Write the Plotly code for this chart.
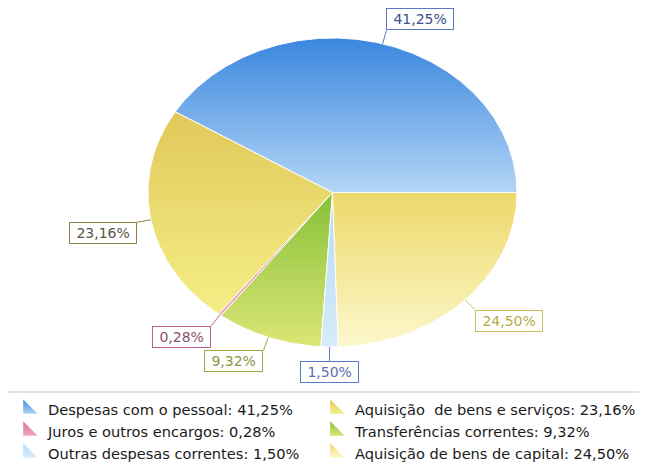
import numpy as np
import plotly.graph_objects as go

# ---- data ----
categories = [
    "Despesas com o pessoal",
    "Aquisição  de bens e serviços",
    "Juros e outros encargos",
    "Transferências correntes",
    "Outras despesas correntes",
    "Aquisição de bens de capital",
]
values = [41.25, 23.16, 0.28, 9.32, 1.50, 24.50]
value_labels = ["41,25%", "23,16%", "0,28%", "9,32%", "1,50%", "24,50%"]

# ---- styles ----
grad_top = ["#3a86de", "#e2c85a", "#d86c98", "#86c038", "#b4d8f4", "#eed86a"]
grad_bottom = ["#b4d6f6", "#f4ee86", "#f0a8c4", "#dce676", "#d6ecfa", "#fcf8cc"]
label_border = ["#5a78c8", "#8c8244", "#c0608a", "#a4a444", "#5a78c8", "#c8c060"]
label_text = ["#3c4f8f", "#5a5444", "#8a5070", "#8c9444", "#5a70b0", "#b4ac48"]
FONT = "DejaVu Sans"

W, H = 647, 463
OFF = 8                         # page body margin
CX, CY = 332.5 - OFF, 192.5 - OFF   # pie centre in figure px
RX, RY = 184.5, 154.5           # px per data unit (ellipse radii)
LEADER = 14                     # leader length in px

fig = go.Figure()
total = sum(values)
start = 0.0
annotations = []
for i, (cat, v, lab) in enumerate(zip(categories, values, value_labels)):
    span = 360.0 * v / total
    ang = np.radians(np.linspace(start, start + span, max(4, int(span * 2) + 2)))
    xs = np.concatenate([[0.0], np.cos(ang), [0.0]])
    ys = np.concatenate([[0.0], np.sin(ang), [0.0]])
    fig.add_trace(go.Scatter(
        x=xs, y=ys, mode="lines", fill="toself",
        line=dict(color="white", width=1),
        fillgradient=dict(type="vertical",
                          colorscale=[[0, grad_bottom[i]], [1, grad_top[i]]]),
        showlegend=False, hoverinfo="skip",
    ))
    mid = np.radians(start + span / 2)
    c, s = np.cos(mid), np.sin(mid)
    tx, ty = c + LEADER * c / RX, s + LEADER * s / RY
    fig.add_trace(go.Scatter(
        x=[c, tx], y=[s, ty], mode="lines",
        line=dict(color=label_border[i], width=1),
        showlegend=False, hoverinfo="skip",
    ))
    xanchor = "left" if c > 0.1 else ("right" if c < -0.1 else "center")
    yanchor = "bottom" if s > 0 else "top"
    annotations.append(dict(
        x=tx, y=ty, xref="x", yref="y", text="\u00a0" + lab + "\u00a0",
        showarrow=False, xanchor=xanchor, yanchor=yanchor,
        font=dict(family=FONT, size=14, color=label_text[i]),
        bordercolor=label_border[i], borderwidth=1, borderpad=2,
        bgcolor="white",
    ))
    start += span

# legend entries: two columns, read row by row
for i, (cat, lab) in enumerate(zip(categories, value_labels)):
    fig.add_trace(go.Scatter(
        x=[None], y=[None], mode="markers", name=f"{cat}: {lab}",
        legend="legend" if i % 2 == 0 else "legend2",
        marker=dict(symbol="triangle-sw", size=20, color=grad_top[i],
                    gradient=dict(type="vertical", color=grad_bottom[i]),
                    line=dict(width=0)),
        hoverinfo="skip",
    ))

legend_common = dict(
    orientation="v", xref="container", yref="container",
    xanchor="left", y=1 - (393 - OFF) / H, yanchor="top",
    borderwidth=0, bgcolor="rgba(0,0,0,0)",
    font=dict(family=FONT, size=14.6, color="#1a1a1a"),
    traceorder="normal",
)

fig.update_layout(
    width=W, height=H,
    margin=dict(l=0, r=0, t=0, b=0, autoexpand=False),
    paper_bgcolor="white", plot_bgcolor="white",
    xaxis=dict(range=[-CX / RX, (W - CX) / RX], visible=False, fixedrange=True),
    yaxis=dict(range=[-(H - CY) / RY, CY / RY], visible=False, fixedrange=True),
    annotations=annotations,
    shapes=[dict(type="rect", xref="paper", yref="paper",
                 x0=-3 / W, x1=(W + 20) / W,
                 y0=-20 / H, y1=1 - (392 - OFF) / H,
                 line=dict(color="#c8c8c8", width=1), fillcolor="rgba(0,0,0,0)",
                 layer="below")],
    showlegend=True,
    legend=dict(x=0, **legend_common),
    legend2=dict(x=(355 - 48) / W, **legend_common),
)

fig.write_html("out.html")
